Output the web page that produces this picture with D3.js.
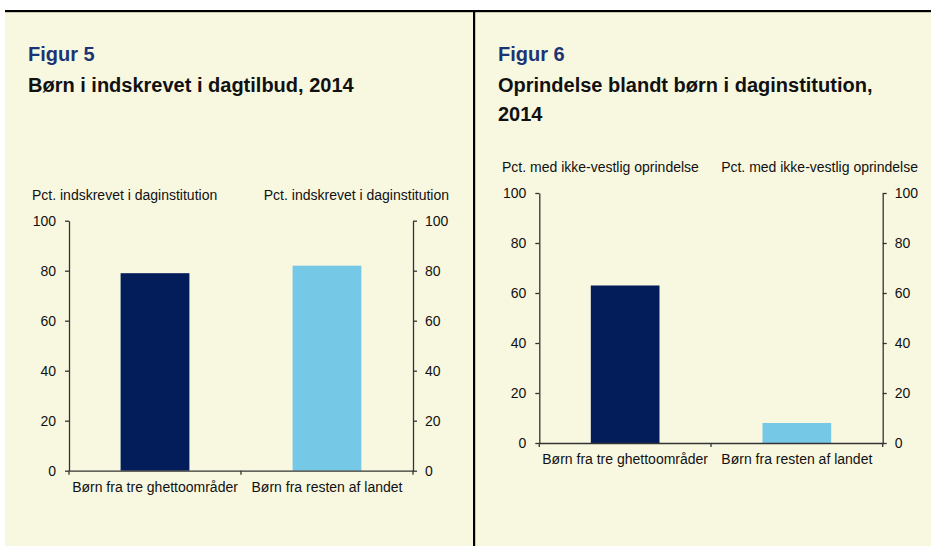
<!DOCTYPE html>
<html>
<head>
<meta charset="utf-8">
<script src="https://cdn.jsdelivr.net/npm/d3@7/dist/d3.min.js"></script>
<style>
  html, body { margin: 0; padding: 0; background: #ffffff; }
  svg { display: block; font-family: "Liberation Sans", Arial, sans-serif; }
</style>
</head>
<body>
<svg id="chart" width="931" height="546"></svg>
<script>
// ---- Data ----
const categories = ["Børn fra tre ghettoområder", "Børn fra resten af landet"];
const fig5Values = [79, 82];
const fig6Values = [63, 8];
const yTicks = [0, 20, 40, 60, 80, 100];
const fig5Label = "Figur 5";
const fig5Title = ["Børn i indskrevet i dagtilbud, 2014"];
const fig5AxisTitle = "Pct. indskrevet i daginstitution";
const fig6Label = "Figur 6";
const fig6Title = ["Oprindelse blandt børn i daginstitution,", "2014"];
const fig6AxisTitle = "Pct. med ikke-vestlig oprindelse";
const barColors = ["#031c5a", "#75c9e6"];

const svg = d3.select("#chart");
const W = 931, H = 546;
const cream = "#f8f8e1";

// background panel
svg.append("rect").attr("x", 5).attr("y", 11).attr("width", W - 5).attr("height", H - 11).attr("fill", cream);
svg.append("rect").attr("x", 5).attr("y", 10).attr("width", W - 5).attr("height", 2.2).attr("fill", "#000");
svg.append("rect").attr("x", 473).attr("y", 10).attr("width", 2.2).attr("height", H - 10).attr("fill", "#000");

function drawChart(cfg) {
  const g = svg.append("g");
  // headings
  g.append("text").attr("x", cfg.headX).attr("y", 61)
    .attr("font-size", 20).attr("font-weight", "bold").attr("fill", "#1b3473")
    .text(cfg.label);
  cfg.title.forEach((t, i) => {
    g.append("text").attr("x", cfg.headX).attr("y", 91.5 + i * 29.5)
      .attr("font-size", 20).attr("font-weight", "bold").attr("fill", "#111")
      .text(t);
  });

  const x = d3.scaleBand().domain(categories).range([cfg.x0, cfg.x1]).paddingInner(0).paddingOuter(0);
  const y = d3.scaleLinear().domain([0, 100]).range([cfg.y0, cfg.y1]);

  // bars
  const bw = x.bandwidth() * 0.4;
  g.selectAll("rect.bar").data(cfg.values).join("rect")
    .attr("class", "bar")
    .attr("x", (d, i) => x(categories[i]) + (x.bandwidth() - bw) / 2)
    .attr("width", bw)
    .attr("y", d => y(d))
    .attr("height", d => y(0) - y(d))
    .attr("fill", (d, i) => barColors[i]);

  // y axes
  const left = g.append("g").attr("transform", `translate(${cfg.x0},0)`)
    .call(d3.axisLeft(y).tickValues(yTicks).tickSize(4).tickSizeOuter(0).tickPadding(9));
  const right = g.append("g").attr("transform", `translate(${cfg.x1},0)`)
    .call(d3.axisRight(y).tickValues(yTicks).tickSize(4).tickSizeOuter(0).tickPadding(8));
  [left, right].forEach(a => {
    a.select(".domain").attr("stroke", "#333").attr("stroke-width", 1.3);
    a.selectAll(".tick line").attr("stroke", "#333").attr("stroke-width", 1.3);
    a.selectAll(".tick text").attr("font-size", 14).attr("fill", "#111")
      .attr("font-family", "Liberation Sans, Arial, sans-serif");
  });

  // x axis
  const xa = g.append("g").attr("transform", `translate(0,${cfg.y0})`)
    .call(d3.axisBottom(x).tickSize(0).tickPadding(11.5));
  xa.select(".domain").attr("stroke", "#333").attr("stroke-width", 1.3);
  xa.selectAll(".tick text").attr("font-size", 14).attr("fill", "#111")
    .attr("font-family", "Liberation Sans, Arial, sans-serif");
  const bounds = categories.map(c => x(c)).concat([x.range()[1]]);
  xa.selectAll("line.bound").data(bounds).join("line")
    .attr("class", "bound")
    .attr("x1", d => d).attr("x2", d => d)
    .attr("y1", 0).attr("y2", 4)
    .attr("stroke", "#333").attr("stroke-width", 1.3);

  // axis titles
  g.append("text").attr("x", cfg.leftTitleX).attr("y", cfg.axisTitleY)
    .attr("font-size", 14).attr("fill", "#111").text(cfg.axisTitle);
  g.append("text").attr("x", cfg.rightTitleX).attr("y", cfg.axisTitleY)
    .attr("text-anchor", "end")
    .attr("font-size", 14).attr("fill", "#111").text(cfg.axisTitle);
}

drawChart({
  label: fig5Label, title: fig5Title, axisTitle: fig5AxisTitle, values: fig5Values,
  headX: 28, x0: 69, x1: 413, y0: 470.7, y1: 220.7,
  leftTitleX: 32, rightTitleX: 449, axisTitleY: 200
});
drawChart({
  label: fig6Label, title: fig6Title, axisTitle: fig6AxisTitle, values: fig6Values,
  headX: 498, x0: 539.3, x1: 882.7, y0: 443, y1: 193,
  leftTitleX: 502, rightTitleX: 918, axisTitleY: 172
});
</script>
</body>
</html>
